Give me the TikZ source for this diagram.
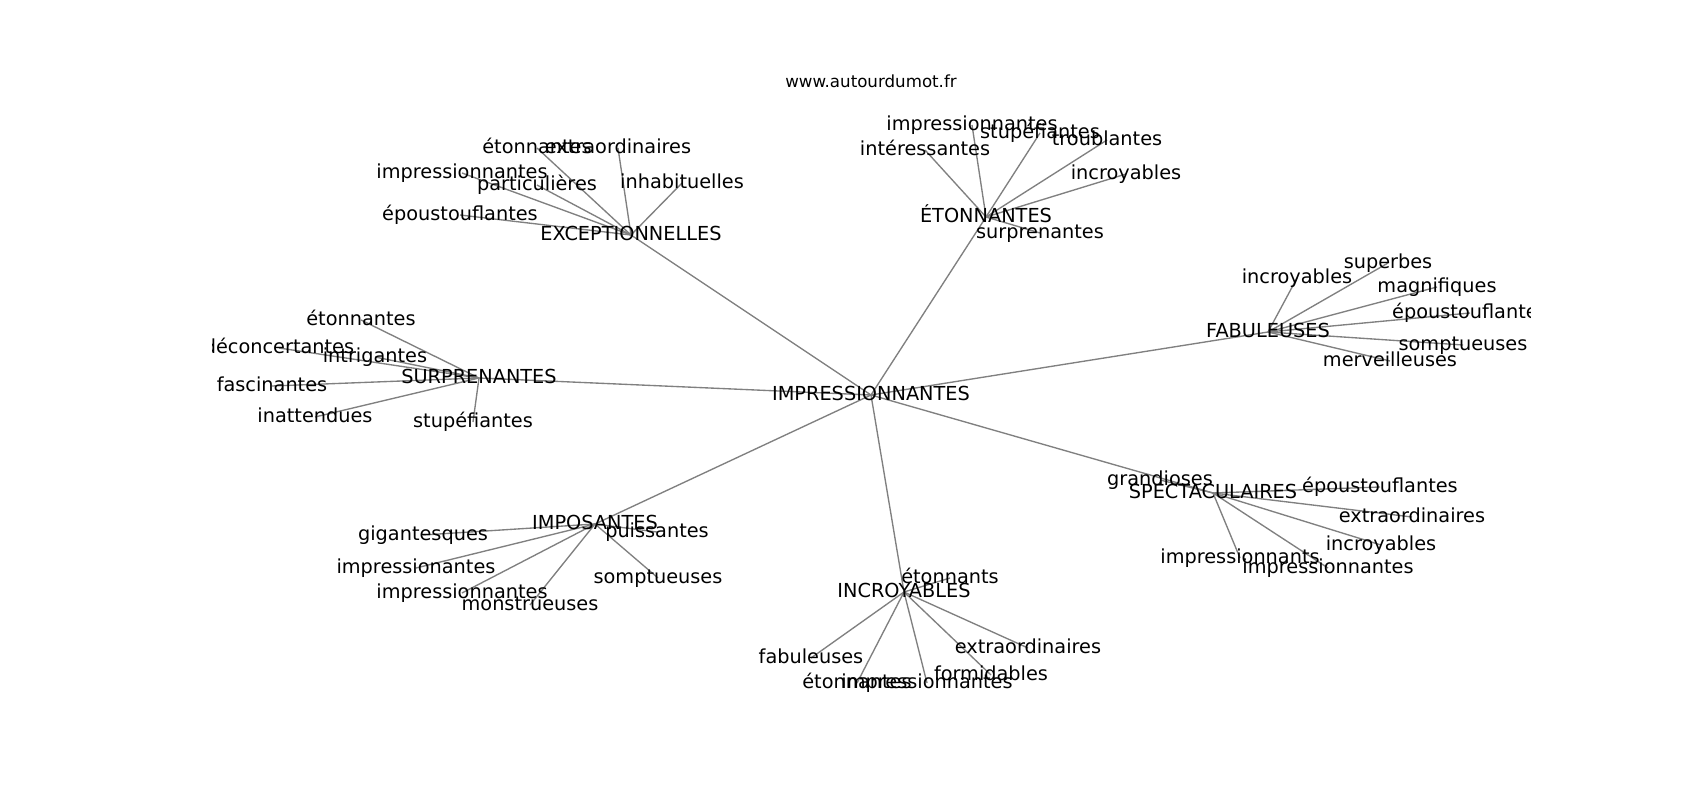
\documentclass[tikz,border=0pt]{standalone}
\usepackage{fontspec}
\setmainfont{DejaVu Sans}
\usetikzlibrary{backgrounds}
\begin{document}
\begin{tikzpicture}[x=1pt,y=-1pt,
  lab/.style={inner sep=0pt, outer sep=0pt, text height=14.67pt, text depth=4.01pt,
    font=\fontsize{19.3}{23}\selectfont, text=black},
  ttl/.style={inner sep=0pt, outer sep=0pt, anchor=base, font=\fontsize{16.67}{20}\selectfont, text=black},
  edge/.style={draw=gray, line width=1.35pt}]
\useasboundingbox (0,0) rectangle (1700,800);

\node[ttl] (title) at (871,88) {www.autourdumot.fr};

\begin{scope}
\clip (212.5,96) rectangle (1530,712);
% hub
\node[lab] (hub) at (871,395) {IMPRESSIONNANTES};
% EXCEPTIONNELLES
\node[lab] (exc) at (631,235) {EXCEPTIONNELLES};
\node[lab] (exc1) at (537,148) {étonnantes};
\node[lab] (exc2) at (618,148) {extraordinaires};
\node[lab] (exc3) at (462,173) {impressionnantes};
\node[lab] (exc4) at (537,185) {particulières};
\node[lab] (exc5) at (682,183) {inhabituelles};
\node[lab] (exc6) at (460,215) {époustouflantes};
% ETONNANTES
\node[lab] (eto) at (986,217) {ÉTONNANTES};
\node[lab] (eto1) at (972,125) {impressionnantes};
\node[lab] (eto2) at (1040,133) {stupéfiantes};
\node[lab] (eto3) at (1107,140) {troublantes};
\node[lab] (eto4) at (925,150) {intéressantes};
\node[lab] (eto5) at (1126,174) {incroyables};
\node[lab] (eto6) at (1040,233) {surprenantes};
% FABULEUSES
\node[lab] (fab) at (1268,332) {FABULEUSES};
\node[lab] (fab1) at (1297,278) {incroyables};
\node[lab] (fab2) at (1388,263) {superbes};
\node[lab] (fab3) at (1437,287) {magnifiques};
\node[lab] (fab4) at (1470,313) {époustouflantes};
\node[lab] (fab5) at (1463,345) {somptueuses};
\node[lab] (fab6) at (1390,361) {merveilleuses};
% SURPRENANTES
\node[lab] (sur) at (479,378) {SURPRENANTES};
\node[lab] (sur1) at (361,320) {étonnantes};
\node[lab] (sur2) at (279,348) {déconcertantes};
\node[lab] (sur3) at (375,357) {intrigantes};
\node[lab] (sur4) at (272,386) {fascinantes};
\node[lab] (sur5) at (315,417) {inattendues};
\node[lab] (sur6) at (473,422) {stupéfiantes};
% IMPOSANTES
\node[lab] (imp) at (595,524) {IMPOSANTES};
\node[lab] (imp1) at (423,535) {gigantesques};
\node[lab] (imp2) at (657,532) {puissantes};
\node[lab] (imp3) at (416,568) {impressionantes};
\node[lab] (imp4) at (658,578) {somptueuses};
\node[lab] (imp5) at (462,593) {impressionnantes};
\node[lab] (imp6) at (530,605) {monstrueuses};
% INCROYABLES
\node[lab] (inc) at (904,592) {INCROYABLES};
\node[lab] (inc1) at (950,578) {étonnants};
\node[lab] (inc2) at (811,658) {fabuleuses};
\node[lab] (inc3) at (857,683) {étonnantes};
\node[lab] (inc4) at (927,683) {impressionnantes};
\node[lab] (inc5) at (1028,648) {extraordinaires};
\node[lab] (inc6) at (991,675) {formidables};
% SPECTACULAIRES
\node[lab] (spe) at (1213,493) {SPECTACULAIRES};
\node[lab] (spe1) at (1160,480) {grandioses};
\node[lab] (spe2) at (1380,487) {époustouflantes};
\node[lab] (spe3) at (1412,517) {extraordinaires};
\node[lab] (spe4) at (1381,545) {incroyables};
\node[lab] (spe5) at (1240,558) {impressionnants};
\node[lab] (spe6) at (1328,568) {impressionnantes};
\end{scope}

\begin{scope}[on background layer]
\fill[white] (0,0) rectangle (1700,800);
\foreach \h in {exc,eto,fab,sur,imp,inc,spe}{
  \draw[edge] (hub.center) -- (\h.center);
  \foreach \i in {1,...,6}{
    \draw[edge] (\h.center) -- (\h\i.center);
  }
}
\end{scope}
\end{tikzpicture}
\end{document}
